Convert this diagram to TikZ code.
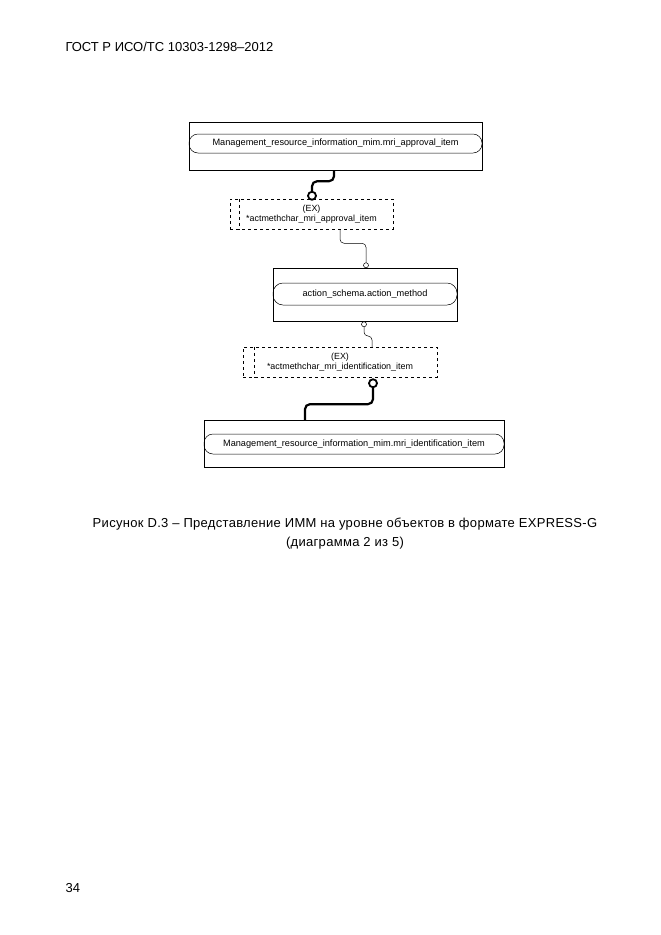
\documentclass[tikz,border=0pt]{standalone}
\usepackage{fontspec}
\setmainfont{Liberation Sans}
\newfontfamily\capfont[LetterSpace=2.4]{Liberation Sans}
\usetikzlibrary{calc}

\tikzset{
	entbox/.style={draw, line width=0.5pt, inner sep=0pt},
	entname/.style={draw, line width=0.5pt, rounded corners=9pt, inner sep=0pt, font=\fontsize{9.2}{10}\selectfont},
	exbox/.style={draw, dashed, line width=0.5pt, inner sep=0pt, align=center, font=\fontsize{8.9}{10.5}\selectfont},
	thickconn/.style={line width=2.2pt, rounded corners=5pt},
	thinconn/.style={line width=0.5pt, rounded corners=4pt},
	bigring/.style={circle, draw, line width=1.8pt, fill=white, minimum size=8pt, inner sep=0pt},
	smallring/.style={circle, draw, line width=0.5pt, fill=white, minimum size=5pt, inner sep=0pt},
}

\begin{document}
\begin{tikzpicture}[x=1pt, y=1pt]
	\useasboundingbox (0,0) rectangle (661,-935);
	% page header and number
	\node[anchor=base west, font=\fontsize{13}{15}\selectfont] (header) at (62,-51) {ГОСТ Р ИСО/ТС 10303-1298–2012};
	\node[anchor=base west, font=\fontsize{13}{15}\selectfont] (pagenum) at (62,-892) {34};
	% entities
	\node[entbox, minimum width=293pt, minimum height=48pt] (apprbox) at (335.5,-146) {};
	\node[entname, minimum width=293pt, minimum height=19pt] (appr) at (335.5,-143.5) {Management\_resource\_information\_mim.mri\_approval\_item};
	\node[exbox, minimum width=163pt, minimum height=30pt] (exappr) at (311.5,-214) {(EX)\\*actmethchar\_mri\_approval\_item};
	\draw[dashed, line width=0.5pt] ($(exappr.north west)+(9,0)$) -- ($(exappr.south west)+(9,0)$);
	\node[entbox, minimum width=184pt, minimum height=53pt] (methbox) at (365,-294.5) {};
	\node[entname, minimum width=184pt, minimum height=22pt, rounded corners=10pt] (meth) at (365,-294) {action\_schema.action\_method};
	\node[exbox, minimum width=194pt, minimum height=30pt] (exident) at (340,-362) {(EX)\\*actmethchar\_mri\_identification\_item};
	\draw[dashed, line width=0.5pt] ($(exident.north west)+(11,0)$) -- ($(exident.south west)+(11,0)$);
	\node[entbox, minimum width=300pt, minimum height=47pt] (identbox) at (354,-443.5) {};
	\node[entname, minimum width=300pt, minimum height=20pt] (ident) at (354,-444) {Management\_resource\_information\_mim.mri\_identification\_item};
	% connectors
	\draw[thickconn] ($(apprbox.south)+(-1.5,0)$) -- ++(0,-11) -| ($(exappr.north)+(0.5,7)$);
	\node[bigring] (r1) at ($(exappr.north)+(0.5,3)$) {};
	\draw[thinconn] ($(exappr.south)+(28.5,0)$) -- ++(0,-14) -| ($(methbox.north)+(1,4.5)$);
	\node[smallring] (r2) at ($(methbox.north)+(1,2.5)$) {};
	\node[smallring] (r3) at ($(methbox.south)+(-1,-3)$) {};
	\draw[thinconn] (r3.south) -- ++(0,-9) -| ($(exident.north)+(32,0)$);
	\node[bigring] (r4) at ($(exident.south)+(33,-6)$) {};
	\draw[thickconn] (r4.south) -- ++(0,-16) -| ($(identbox.north)+(-49,0)$);
	% caption
	\node[font=\capfont\fontsize{13}{15}\selectfont, align=center] (caption) at (345,-534) {Рисунок D.3 – Представление ИММ на уровне объектов в формате EXPRESS-G\\[4pt](диаграмма 2 из 5)};
\end{tikzpicture}
\end{document}
